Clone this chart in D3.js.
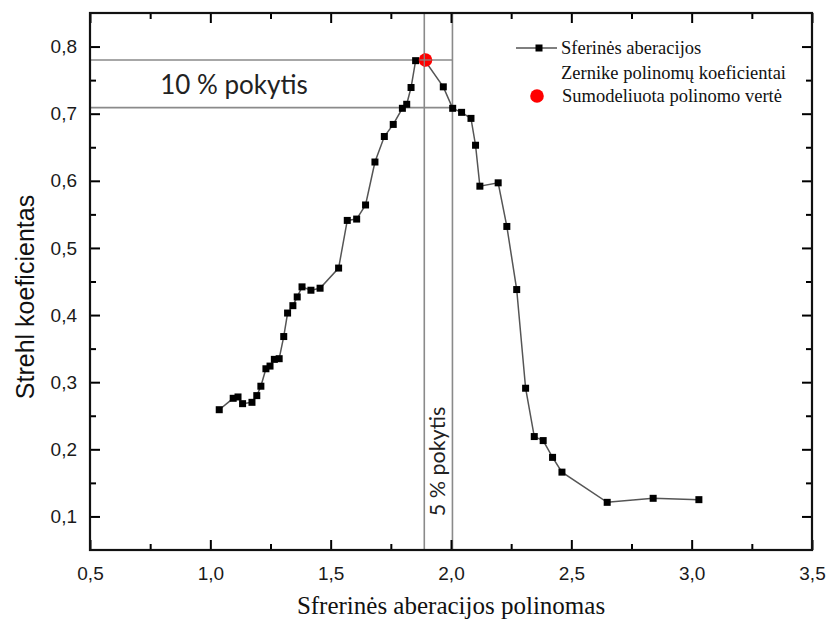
<!DOCTYPE html>
<html>
<head>
<meta charset="utf-8">
<script src="https://cdn.jsdelivr.net/npm/d3@7/dist/d3.min.js"></script>
<style>
html,body{margin:0;padding:0;background:#fff;}
svg{display:block;}
</style>
</head>
<body>
<svg id="chart" width="829" height="623"></svg>
<script>
// ---- data ----
const xValues = [1.037,1.095,1.115,1.134,1.173,1.193,1.210,1.231,1.248,1.266,1.286,1.305,1.321,1.343,1.361,1.381,1.418,1.456,1.533,1.569,1.608,1.645,1.684,1.723,1.760,1.798,1.816,1.834,1.853,1.890,1.968,2.007,2.044,2.083,2.102,2.120,2.196,2.232,2.273,2.310,2.346,2.383,2.422,2.461,2.649,2.840,3.030];
const strehlValues = [0.259,0.276,0.278,0.268,0.270,0.280,0.294,0.320,0.324,0.334,0.335,0.368,0.403,0.414,0.427,0.442,0.437,0.440,0.470,0.541,0.543,0.564,0.628,0.666,0.684,0.708,0.714,0.739,0.779,0.780,0.740,0.708,0.702,0.693,0.653,0.592,0.597,0.532,0.438,0.291,0.219,0.213,0.188,0.166,0.121,0.127,0.125];
const modelPoint = [1.894, 0.780];
const hLines = [0.780, 0.709];
const vLines = [1.889, 2.006];
const xTicks = [0.5,1.0,1.5,2.0,2.5,3.0,3.5];
const xMinorTicks = [0.75,1.25,1.75,2.25,2.75,3.25];
const yTicks = [0.1,0.2,0.3,0.4,0.5,0.6,0.7,0.8];
const yMinorTicks = [0.15,0.25,0.35,0.45,0.55,0.65,0.75];
const legendLabels = ["Sferinės aberacijos", "Zernike polinomų koeficientai", "Sumodeliuota polinomo vertė"];
const xTitle = "Sfrerinės aberacijos polinomas";
const yTitle = "Strehl koeficientas";
const annot10 = "10 % pokytis";
const annot5 = "5 % pokytis";

// ---- layout ----
const SERIF = "Liberation Serif";
const SANS = "Liberation Sans";
const CAL = "Lato";
const L = 90, R = 812, T = 13, B = 550;
const svg = d3.select("#chart");
svg.append("rect").attr("width",829).attr("height",623).attr("fill","#fff");

const x = d3.scaleLinear().domain([0.5,3.5]).range([L,R]);
const y = d3.scaleLinear().domain([0.05,0.85]).range([B,T]);
const fmt = d => d3.format(".1f")(d).replace(".", ",");

// reference lines
const gLines = svg.append("g").attr("stroke","#8a8a8a").attr("stroke-width",1.6);
hLines.forEach(v => gLines.append("line").attr("x1",L).attr("x2",x(vLines[1])).attr("y1",y(v)).attr("y2",y(v)));
vLines.forEach(v => gLines.append("line").attr("x1",x(v)).attr("x2",x(v)).attr("y1",T).attr("y2",B));

// axes
function styleAxis(g){
  g.select(".domain").remove();
  g.attr("font-family",SANS).attr("font-size",19);
  g.selectAll(".tick line").attr("stroke","#000").attr("stroke-width",2);
  g.selectAll(".tick text").attr("fill","#1a1a1a");
}
const xb = svg.append("g").attr("transform",`translate(0,${B})`)
  .call(d3.axisBottom(x).tickValues(xTicks).tickSize(-10).tickPadding(17).tickFormat(fmt));
styleAxis(xb);
const xbm = svg.append("g").attr("transform",`translate(0,${B})`)
  .call(d3.axisBottom(x).tickValues(xMinorTicks).tickSize(-6).tickFormat(""));
styleAxis(xbm);
const xt = svg.append("g").attr("transform",`translate(0,${T})`)
  .call(d3.axisTop(x).tickValues(xTicks).tickSize(-10).tickFormat(""));
styleAxis(xt);
const xtm = svg.append("g").attr("transform",`translate(0,${T})`)
  .call(d3.axisTop(x).tickValues(xMinorTicks).tickSize(-6).tickFormat(""));
styleAxis(xtm);
const yl = svg.append("g").attr("transform",`translate(${L},0)`)
  .call(d3.axisLeft(y).tickValues(yTicks).tickSize(-10).tickPadding(13).tickFormat(fmt));
styleAxis(yl);
const ylm = svg.append("g").attr("transform",`translate(${L},0)`)
  .call(d3.axisLeft(y).tickValues(yMinorTicks).tickSize(-6).tickFormat(""));
styleAxis(ylm);
const yr = svg.append("g").attr("transform",`translate(${R},0)`)
  .call(d3.axisRight(y).tickValues(yTicks).tickSize(-10).tickFormat(""));
styleAxis(yr);
const yrm = svg.append("g").attr("transform",`translate(${R},0)`)
  .call(d3.axisRight(y).tickValues(yMinorTicks).tickSize(-6).tickFormat(""));
styleAxis(yrm);

// frame
svg.append("rect").attr("x",L).attr("y",T).attr("width",R-L).attr("height",B-T)
  .attr("fill","none").attr("stroke","#111").attr("stroke-width",2.2);

// series
const pts = xValues.map((v,i)=>[v,strehlValues[i]]);
svg.append("path").datum(pts)
  .attr("d", d3.line().x(d=>x(d[0])).y(d=>y(d[1])))
  .attr("fill","none").attr("stroke","#555").attr("stroke-width",1.5);
const s = 7;
svg.append("g").selectAll("rect").data(pts).join("rect")
  .attr("x",d=>x(d[0])-s/2).attr("y",d=>y(d[1])-s/2).attr("width",s).attr("height",s).attr("fill","#000");

// modeled value
svg.append("circle").attr("cx",x(modelPoint[0])).attr("cy",y(modelPoint[1])).attr("r",6.8).attr("fill","#ff0000");
svg.append("line").attr("x1",x(modelPoint[0])-6).attr("x2",x(modelPoint[0])+6).attr("y1",y(hLines[0])).attr("y2",y(hLines[0])).attr("stroke","#8a8a8a").attr("stroke-width",1.2);
svg.append("line").attr("x1",x(vLines[0])).attr("x2",x(vLines[0])).attr("y1",y(modelPoint[1])-6).attr("y2",y(modelPoint[1])+6).attr("stroke","#8a8a8a").attr("stroke-width",1.2);

// annotations
svg.append("text").attr("font-family",CAL).attr("x",234).attr("y",94).attr("text-anchor","middle")
  .attr("font-size",26).attr("fill","#222").text(annot10);
svg.append("text").attr("font-family",CAL).attr("transform","translate(445,461.5) rotate(-90)").attr("text-anchor","middle")
  .attr("font-size",21.5).attr("fill","#222").text(annot5);

// legend
const lg = svg.append("g").attr("fill","#111").attr("font-family",SERIF).attr("font-size",18.5);
lg.append("line").attr("x1",516).attr("x2",557).attr("y1",48).attr("y2",48).attr("stroke","#555").attr("stroke-width",1.5);
lg.append("rect").attr("x",539-3.5).attr("y",48-3.5).attr("width",7).attr("height",7).attr("fill","#000");
lg.append("text").attr("x",561).attr("y",54).text(legendLabels[0]);
lg.append("text").attr("x",561).attr("y",79).text(legendLabels[1]);
lg.append("circle").attr("cx",537).attr("cy",96).attr("r",6.8).attr("fill","#ff0000");
lg.append("text").attr("x",562).attr("y",102).text(legendLabels[2]);

// axis titles
svg.append("text").attr("font-family",SERIF).attr("x",451).attr("y",614).attr("text-anchor","middle")
  .attr("font-size",25).attr("fill","#111").text(xTitle);
svg.append("text").attr("font-family",SANS).attr("transform","translate(34,297) rotate(-90)").attr("text-anchor","middle")
  .attr("font-size",25).attr("fill","#111").text(yTitle);
</script>
</body>
</html>
